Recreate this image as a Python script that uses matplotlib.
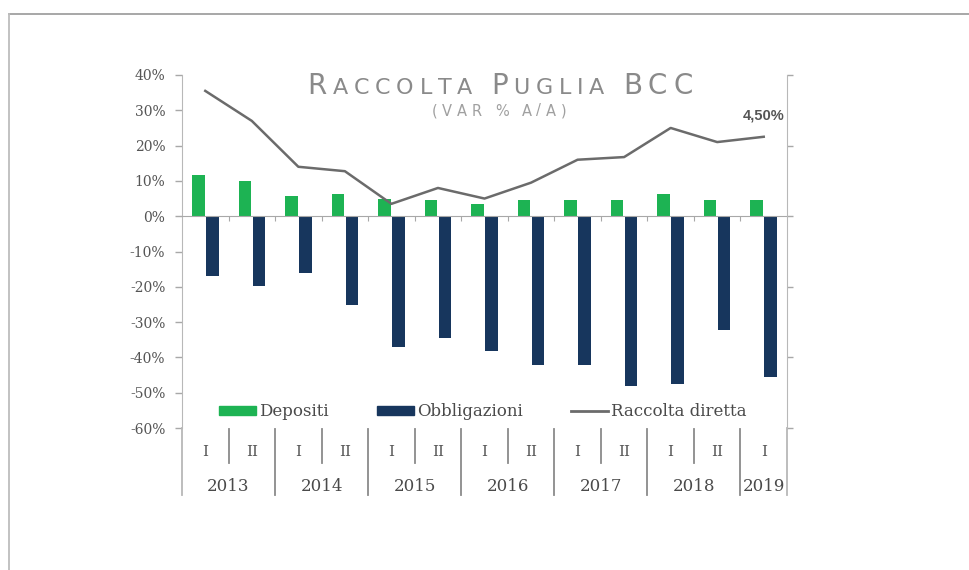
import matplotlib.pyplot as plt
from matplotlib.lines import Line2D
from matplotlib.patches import Patch

# Semestri e anni sull'asse delle categorie
periods = ['I', 'II', 'I', 'II', 'I', 'II', 'I', 'II', 'I', 'II', 'I', 'II', 'I']
years = ['2013', '2014', '2015', '2016', '2017', '2018', '2019']
year_span = [2, 2, 2, 2, 2, 2, 1]

# Variazioni % a/a (asse sinistro)
depositi = [11.8, 9.9, 5.6, 6.3, 5.0, 4.6, 3.5, 4.6, 4.6, 4.6, 6.3, 4.6, 4.6]
obbligazioni = [-17.0, -19.7, -16.1, -25.2, -37.1, -34.4, -38.3, -42.2, -42.2, -48.2, -47.4, -32.2, -45.6]

# Raccolta diretta (asse destro)
raccolta = [7.1, 5.4, 2.8, 2.55, 0.7, 1.6, 1.0, 1.9, 3.2, 3.35, 5.0, 4.2, 4.5]

GREEN = '#1db353'
NAVY = '#17365d'
LINE = '#6b6b6b'
AXIS = '#a8a8a8'
TXT = '#4a4a4a'

plt.rcParams['font.family'] = ['DejaVu Serif']

W, H = 970, 570
fig = plt.figure(figsize=(W / 100, H / 100), dpi=100)
ax = fig.add_axes([182 / W, 1 - 428 / H, (787 - 182) / W, (428 - 75) / H])

x = list(range(len(periods)))
bw = 0.27
ax.bar([i - 0.15 for i in x], depositi, bw, color=GREEN, zorder=2)
ax.bar([i + 0.15 for i in x], obbligazioni, bw, color=NAVY, zorder=2)

ax.set_xlim(-0.5, len(x) - 0.5)
ax.set_ylim(-60, 40)
yt = list(range(-60, 41, 10))
ax.set_yticks(yt)
ax.set_yticklabels([f'{v}%' for v in yt])
ax.tick_params(axis='y', direction='out', length=5, width=1, color=AXIS,
               labelcolor='#555555', labelsize=10, pad=7)

# asse categorie sullo zero, con tacche tra le categorie
ax.spines['bottom'].set_position(('data', 0))
ax.spines['bottom'].set_color(AXIS)
ax.spines['left'].set_color('#b8b8b8')
ax.spines['top'].set_visible(False)
ax.spines['right'].set_visible(False)
ax.set_xticks([i + 0.5 for i in x[:-1]])
ax.set_xticklabels([])
ax.tick_params(axis='x', direction='out', length=3.5, width=0.8, color=AXIS)

# asse secondario per la raccolta diretta
ax2 = ax.twinx()
ax2.set_ylim(-12, 8)
ax2.set_yticks(range(-12, 9, 4))
ax2.set_yticklabels([])
ax2.tick_params(axis='y', direction='out', length=4.5, width=1, color=AXIS)
for s in ['top', 'left', 'bottom']:
    ax2.spines[s].set_visible(False)
ax2.spines['right'].set_color('#b8b8b8')
ax2.plot(x, raccolta, color=LINE, lw=1.8, zorder=3)
ax2.annotate(f'{raccolta[-1]:.2f}%'.replace('.', ','), xy=(x[-1], raccolta[-1]),
             xytext=(0, 10), textcoords='offset points', ha='center', va='bottom',
             fontsize=10.5, fontweight='bold', color='#555555', family='Liberation Sans')

# etichette multilivello sotto il grafico
tr = ax.get_xaxis_transform()
for i, p in enumerate(periods):
    ax.text(i, -0.068, p, transform=tr, ha='center', va='center',
            fontsize=11, color='#555555', clip_on=False)
start = 0
bounds = [-0.5]
for yr, n in zip(years, year_span):
    ax.text(start + (n - 1) / 2, -0.165, yr, transform=tr, ha='center', va='center',
            fontsize=12, color=TXT, clip_on=False)
    if n == 2:
        ax.plot([start + 0.5] * 2, [-0.004, -0.099], transform=tr, color='#8a8a8a',
                lw=1.3, clip_on=False)
    start += n
    bounds.append(start - 0.5)
for b in bounds:
    edge = b in (bounds[0], bounds[-1])
    ax.plot([b, b], [0 if edge else -0.004, -0.19], transform=tr,
            color='#b8b8b8' if edge else '#8a8a8a', lw=1.3, clip_on=False)

# legenda
handles = [Patch(color=GREEN), Patch(color=NAVY), Line2D([], [], color=LINE, lw=2)]
fig.legend(handles, ['Depositi', 'Obbligazioni', 'Raccolta diretta'],
           loc='center', bbox_to_anchor=(483 / W, 1 - 412 / H), ncol=3, frameon=False,
           fontsize=12, handlelength=2.2, handleheight=0.45, handletextpad=0.2,
           columnspacing=2.9, labelcolor=TXT)


# titolo in maiuscoletto
def small_caps(pieces, cx, y, width, color):
    renderer = fig.canvas.get_renderer()
    chars = []
    for txt, size in pieces:
        for ch in txt:
            t = fig.text(0, 0, ch, fontsize=size, family='DejaVu Sans')
            w = t.get_window_extent(renderer).width if ch != ' ' else size * 0.35
            t.remove()
            chars.append((ch, size, w))
    natural = sum(c[2] for c in chars)
    track = (width - natural) / (len(chars) - 1)
    px = cx - width / 2
    for ch, size, w in chars:
        if ch != ' ':
            fig.text(px / W, 1 - y / H, ch, fontsize=size, family='DejaVu Sans',
                     color=color, va='baseline', ha='left')
        px += w + track


small_caps([('R', 20), ('ACCOLTA', 16), (' ', 20), ('P', 20), ('UGLIA', 16),
            (' ', 20), ('BCC', 20)], 500, 93.5, 385, '#8a8a8a')
small_caps([('(VAR % A/A)', 10.5)], 499, 115.5, 135, '#a0a0a0')

# cornice della pagina
fig.add_artist(Line2D([9.5 / W, 1], [1 - 14 / H] * 2, color='#a0a0a0', lw=1.3))
fig.add_artist(Line2D([9.5 / W] * 2, [0, 1 - 14 / H], color='#bdbdbd', lw=1.3))

fig.savefig('out.png', dpi=100, facecolor='white')
